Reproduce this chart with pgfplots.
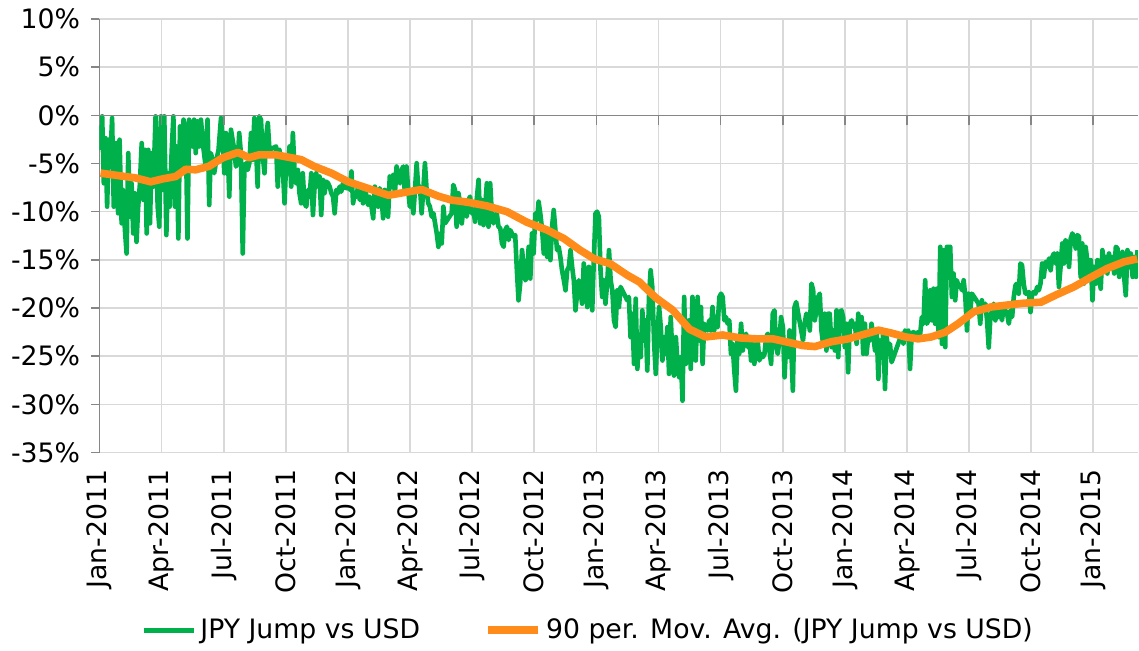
\documentclass[border=0pt]{standalone}
\usepackage{fontspec}
\setmainfont{DejaVu Sans}
\usepackage{pgfplots}
\pgfplotsset{compat=1.18}
\definecolor{jpygreen}{HTML}{00B04A}
\definecolor{mavgorange}{HTML}{FF8C1A}
\definecolor{gridgray}{HTML}{D9D9D9}
\definecolor{axisgray}{HTML}{868686}

\begin{document}
\fontsize{13.3}{16}\selectfont
\begin{tikzpicture}
\begin{axis}[
  scale only axis, width=517.5pt, height=216pt,
  xmin=0, xmax=50.17, ymin=-35, ymax=10,
  axis y line=left, axis x line=bottom,
  axis line style={-},
  x axis line style={draw=none},
  y axis line style={draw=axisgray, line width=0.8pt},
  xtick={0,3,...,48},
  xticklabels={Jan-2011,Apr-2011,Jul-2011,Oct-2011,Jan-2012,Apr-2012,Jul-2012,Oct-2012,Jan-2013,Apr-2013,Jul-2013,Oct-2013,Jan-2014,Apr-2014,Jul-2014,Oct-2014,Jan-2015},
  xticklabel style={rotate=90, anchor=east},
  xtick style={draw=none},
  ytick={-35,-30,...,10},
  yticklabels={-35\%,-30\%,-25\%,-20\%,-15\%,-10\%,-5\%,0\%,5\%,10\%},
  yticklabel style={inner xsep=5.5pt},
  ytick style={draw=axisgray, line width=0.8pt},
  tick align=outside, major tick length=4pt,
  grid=major, grid style={draw=gridgray, line width=0.8pt},
  legend style={at={(0.4715,-0.41)}, anchor=center, draw=none, fill=none,
    legend columns=2, /tikz/every even column/.append style={column sep=30pt}},
  legend cell align=left,
  legend image code/.code={\draw[#1] (0pt,0pt) -- (25pt,0pt);},
]
\addplot[jpygreen, line width=2.3pt, line join=round] coordinates {
(0.05,-3.58)(0.13,-0.10)(0.21,-7.05)(0.29,-2.36)(0.37,-9.48)(0.45,-2.53)(0.53,-4.27)(0.61,-0.28)
(0.69,-9.48)(0.81,-2.88)(0.90,-10.17)(0.97,-2.53)(1.07,-11.21)(1.13,-7.74)(1.23,-11.91)(1.31,-14.34)
(1.39,-3.92)(1.47,-10.52)(1.55,-7.05)(1.63,-12.26)(1.71,-8.09)(1.79,-13.13)(1.87,-9.48)(1.95,-7.22)
(2.04,-2.88)(2.12,-8.78)(2.20,-3.58)(2.28,-12.26)(2.36,-3.58)(2.44,-11.21)(2.52,-3.92)(2.60,-7.40)
(2.71,-0.10)(2.81,-9.48)(2.89,-11.56)(2.97,-0.10)(3.05,-7.74)(3.13,-0.10)(3.23,-12.43)(3.31,-6.01)
(3.39,-9.48)(3.49,-3.58)(3.57,-0.10)(3.65,-9.48)(3.73,-3.23)(3.81,-12.78)(3.89,-1.15)(3.97,-6.01)
(4.06,-0.45)(4.17,-1.49)(4.25,-12.78)(4.33,-0.45)(4.49,-3.23)(4.57,-0.45)(4.65,-3.92)(4.73,-0.63)
(4.82,-3.23)(4.90,-0.45)(5.01,-3.23)(5.11,-4.97)(5.22,-0.45)(5.30,-9.31)(5.38,-3.92)(5.46,-4.62)
(5.54,-6.01)(5.62,-4.97)(5.75,-3.58)(5.87,-0.28)(5.95,-2.53)(6.03,-6.01)(6.11,-1.84)(6.19,-3.58)
(6.27,-8.44)(6.35,-1.49)(6.43,-2.53)(6.51,-3.58)(6.59,-5.31)(6.67,-4.97)(6.75,-1.84)(6.83,-3.92)
(6.92,-14.34)(7.00,-5.31)(7.08,-4.97)(7.16,-5.66)(7.24,-4.97)(7.32,-1.84)(7.40,-4.62)(7.48,-0.28)
(7.56,-3.23)(7.64,-7.40)(7.72,-0.10)(7.80,-0.45)(7.89,-4.27)(7.97,-6.01)(8.05,-2.19)(8.13,-0.80)
(8.21,-3.58)
(8.53,-3.23)(8.61,-7.40)(8.69,-3.58)(8.77,-4.62)(8.85,-5.31)(8.94,-9.13)(9.02,-4.62)(9.10,-6.01)
(9.18,-3.23)(9.26,-7.40)(9.34,-1.84)(9.42,-5.66)(9.50,-7.05)(9.58,-5.66)(9.66,-8.09)(9.74,-9.13)
(9.82,-6.01)(9.90,-9.13)(9.99,-9.48)(10.07,-7.74)(10.15,-8.44)(10.23,-6.01)(10.31,-10.35)(10.39,-7.40)
(10.47,-6.01)(10.55,-7.40)(10.63,-6.35)(10.71,-10.35)(10.79,-6.70)(10.87,-8.09)(10.95,-6.87)(11.04,-7.05)
(11.12,-7.40)(11.20,-8.09)(11.28,-8.44)(11.36,-10.17)(11.44,-7.74)(11.52,-8.09)(11.60,-7.40)(11.68,-7.92)
(11.76,-7.05)(11.84,-7.40)(11.92,-7.57)(12.00,-7.05)(12.09,-7.74)(12.17,-5.83)(12.25,-9.13)(12.33,-8.09)
(12.41,-8.44)(12.49,-7.40)(12.57,-8.78)(12.65,-7.92)(12.73,-9.13)(12.81,-7.74)(12.89,-8.26)(12.97,-9.31)
(13.06,-8.44)(13.14,-9.48)(13.22,-10.69)(13.30,-7.40)(13.38,-8.26)(13.46,-9.48)(13.54,-7.57)(13.62,-8.44)
(13.70,-10.69)(13.78,-7.74)(13.86,-8.78)(13.94,-10.52)(14.02,-6.35)(14.11,-7.40)(14.19,-6.18)(14.27,-8.09)
(14.35,-5.31)(14.43,-6.70)(14.51,-7.05)(14.59,-5.66)(14.67,-5.31)(14.75,-8.09)(14.83,-5.31)(14.91,-7.74)
(14.99,-9.48)(15.08,-8.44)(15.16,-10.17)(15.24,-7.74)(15.32,-4.97)(15.40,-7.74)(15.48,-7.40)(15.56,-10.17)
(15.64,-7.74)(15.72,-4.97)(15.80,-7.74)(15.88,-9.13)(15.96,-9.48)(16.045,-10.52)(16.13,-10.17)(16.21,-11.21)
(16.29,-12.26)(16.37,-13.65)(16.45,-12.26)(16.53,-13.30)(16.61,-9.48)(16.69,-11.21)
(17.01,-10.17)(17.09,-7.22)(17.17,-7.74)(17.25,-11.56)(17.34,-8.09)(17.42,-9.13)(17.50,-11.22)(17.58,-9.48)
(17.66,-9.83)(17.74,-10.52)(17.82,-8.78)(17.90,-8.44)(17.98,-10.17)(18.06,-9.83)(18.14,-11.04)(18.22,-8.78)
(18.31,-6.70)(18.39,-11.22)(18.47,-8.78)(18.55,-11.39)(18.63,-9.48)(18.71,-7.05)(18.79,-11.56)(18.87,-7.05)
(18.95,-10.17)(19.03,-11.22)(19.11,-10.52)(19.19,-10.17)(19.27,-11.56)(19.36,-11.74)(19.44,-13.30)(19.52,-13.65)
(19.60,-11.91)(19.68,-11.56)(19.76,-12.95)(19.84,-11.91)(19.92,-12.26)(20.00,-12.60)(20.08,-12.43)(20.16,-16.08)
(20.24,-19.20)(20.32,-17.46)(20.41,-13.99)(20.49,-15.73)(20.57,-17.12)(20.65,-16.77)(20.73,-13.65)(20.81,-16.94)
(20.89,-12.26)(20.97,-14.34)(21.05,-10.17)(21.13,-10.87)(21.21,-8.96)(21.29,-10.17)(21.38,-11.91)(21.46,-14.34)
(21.54,-12.26)(21.62,-14.69)(21.70,-12.60)(21.78,-15.03)(21.86,-11.56)(21.94,-9.83)(22.02,-11.91)(22.10,-13.99)
(22.18,-13.65)(22.26,-14.69)(22.34,-16.08)(22.43,-17.12)(22.51,-18.16)(22.59,-16.08)(22.67,-15.73)(22.75,-13.99)
(22.83,-15.73)(22.91,-17.12)(22.99,-20.24)(23.07,-18.51)(23.15,-17.12)(23.23,-18.16)(23.31,-19.55)(23.39,-15.38)
(23.48,-17.12)(23.56,-19.90)(23.64,-15.73)(23.72,-17.46)(23.80,-20.24)(23.88,-14.69)(23.96,-10.17)(24.04,-10.00)
(24.12,-10.52)(24.20,-16.08)(24.28,-18.85)(24.36,-17.12)(24.44,-19.55)(24.53,-17.12)(24.61,-13.99)(24.69,-17.12)
(24.77,-18.16)(24.85,-21.28)(24.93,-21.98)(25.01,-18.16)(25.09,-19.90)(25.17,-17.81)
(25.49,-19.20)(25.57,-18.85)(25.65,-23.02)(25.73,-20.59)(25.82,-25.80)(25.90,-19.03)(25.98,-26.32)(26.06,-23.02)
(26.14,-25.10)(26.22,-20.24)(26.30,-23.37)(26.38,-21.28)(26.46,-26.49)(26.54,-18.85)(26.62,-16.08)(26.70,-17.81)
(26.79,-23.72)(26.87,-26.84)(26.95,-22.67)(27.03,-19.90)(27.11,-21.98)(27.19,-25.45)(27.27,-23.02)(27.35,-24.76)
(27.43,-21.98)(27.51,-26.84)(27.59,-20.94)(27.67,-24.76)(27.75,-27.01)(27.84,-23.02)(27.92,-25.80)(28.00,-27.19)
(28.08,-25.10)(28.16,-29.62)(28.24,-18.85)(28.32,-25.80)(28.40,-22.67)(28.48,-21.28)(28.56,-26.32)(28.64,-18.85)
(28.72,-22.33)(28.80,-25.45)(28.89,-18.85)(28.97,-23.37)(29.05,-19.90)(29.13,-25.80)(29.21,-21.63)(29.29,-21.98)
(29.37,-22.33)(29.45,-21.28)(29.53,-22.33)(29.61,-19.90)(29.69,-22.33)(29.77,-20.94)(29.85,-21.98)(29.94,-18.85)
(30.02,-18.51)(30.10,-18.85)(30.18,-21.28)(30.26,-20.94)(30.34,-21.63)(30.42,-21.28)(30.50,-24.76)(30.58,-23.72)
(30.66,-26.49)(30.74,-28.58)(30.82,-23.37)(30.90,-24.76)(30.99,-21.63)(31.07,-24.41)(31.15,-23.02)(31.23,-22.67)
(31.31,-24.06)(31.39,-23.02)(31.47,-25.45)(31.55,-23.72)(31.63,-25.80)(31.71,-24.06)(31.79,-23.37)(31.87,-25.45)
(31.96,-24.76)(32.04,-25.10)(32.12,-24.76)(32.20,-23.02)(32.28,-22.67)(32.36,-24.41)(32.44,-25.80)(32.52,-20.59)
(32.60,-20.24)(32.68,-24.06)(32.76,-24.76)(32.84,-23.37)(32.92,-20.94)(33.01,-21.98)(33.09,-27.19)(33.17,-23.37)
(33.25,-25.10)(33.33,-22.33)(33.41,-24.06)(33.49,-28.58)(33.57,-19.90)(33.65,-19.38)
(33.98,-23.37)(34.06,-21.63)(34.14,-20.59)(34.22,-20.94)(34.31,-22.33)(34.39,-17.47)(34.47,-18.16)(34.55,-21.28)
(34.63,-20.24)(34.71,-18.85)(34.79,-18.51)(34.87,-22.33)(34.95,-23.72)(35.03,-20.59)(35.11,-24.41)(35.19,-20.59)
(35.27,-20.59)(35.36,-24.06)(35.44,-22.33)(35.52,-24.41)(35.60,-20.24)(35.68,-25.10)(35.76,-20.42)(35.84,-20.24)
(35.92,-20.94)(36.00,-24.06)(36.08,-21.63)(36.16,-26.67)(36.24,-21.63)(36.33,-21.28)(36.41,-21.98)(36.49,-21.63)
(36.57,-23.72)(36.65,-20.59)(36.73,-21.98)(36.81,-20.94)(36.89,-24.76)(36.97,-21.63)(37.05,-24.76)(37.13,-23.02)
(37.21,-23.37)(37.29,-21.63)(37.38,-23.02)(37.46,-24.41)(37.54,-22.33)(37.62,-27.36)(37.70,-23.37)(37.78,-25.10)
(37.86,-22.33)(37.94,-28.40)(38.02,-23.02)(38.10,-24.41)(38.18,-23.72)(38.26,-25.62)(38.75,-22.67)(38.83,-23.72)
(38.91,-22.33)(38.99,-22.50)(39.07,-22.33)(39.15,-26.32)(39.23,-22.67)(39.31,-22.50)(39.39,-22.67)(39.56,-22.50)
(39.64,-22.67)(39.72,-20.94)(39.80,-21.63)(39.88,-17.12)(39.96,-21.63)(40.04,-21.28)(40.12,-18.16)(40.20,-21.28)
(40.28,-17.99)(40.36,-21.63)(40.45,-17.99)(40.53,-23.02)(40.61,-13.65)(40.69,-23.72)(40.77,-13.99)(40.85,-24.06)
(40.93,-13.65)(41.01,-13.65)(41.09,-13.65)(41.17,-18.85)(41.25,-16.42)(41.33,-19.20)(41.41,-17.12)(41.50,-17.81)
(41.58,-17.64)(41.66,-18.16)(41.74,-17.12)(41.82,-18.85)(41.90,-22.33)(41.98,-18.51)(42.06,-20.24)(42.14,-18.51)
(42.46,-19.55)(42.54,-21.63)(42.62,-19.20)(42.70,-20.24)(42.79,-19.55)(42.87,-21.28)(42.95,-24.10)(43.03,-20.94)
(43.11,-20.24)(43.19,-19.55)(43.27,-21.28)(43.35,-19.90)(43.43,-20.94)(43.51,-20.24)(43.59,-21.28)(43.67,-19.90)
(43.75,-20.24)(43.84,-20.59)(43.92,-21.63)(44.00,-20.24)(44.08,-20.94)(44.16,-18.85)(44.24,-17.64)(44.32,-17.47)
(44.40,-18.51)(44.48,-15.38)(44.56,-15.56)(44.64,-17.47)(44.72,-18.51)(44.81,-18.51)(44.89,-18.33)(44.97,-20.42)
(45.05,-18.51)(45.13,-18.33)(45.21,-18.51)(45.29,-17.81)(45.37,-18.16)(45.45,-17.47)(45.53,-15.38)(45.61,-16.77)
(45.69,-15.21)(45.77,-15.73)(45.86,-14.86)(45.94,-16.08)(46.02,-14.69)(46.10,-14.34)(46.18,-15.38)(46.26,-14.34)
(46.34,-17.81)(46.42,-15.73)(46.50,-13.30)(46.58,-15.38)(46.66,-12.95)(46.74,-13.30)(46.83,-15.73)(46.91,-12.78)
(46.99,-12.26)(47.07,-12.60)(47.15,-13.82)(47.23,-12.43)(47.31,-12.60)(47.39,-16.77)(47.47,-13.30)(47.55,-17.47)
(47.63,-13.65)(47.71,-15.03)(47.79,-16.77)(47.88,-15.03)(47.96,-19.20)(48.04,-15.73)(48.12,-17.47)(48.20,-15.03)
(48.28,-16.77)(48.36,-17.99)(48.44,-13.99)(48.52,-15.73)(48.60,-14.69)(48.68,-16.42)(48.76,-14.34)(48.84,-15.38)
(48.93,-14.69)(49.01,-16.42)(49.09,-13.65)(49.17,-13.82)(49.25,-16.77)(49.33,-15.03)(49.41,-14.17)(49.49,-16.77)
(49.57,-18.68)(49.65,-13.99)(49.73,-15.73)(49.81,-14.34)(49.90,-16.77)(49.98,-14.69)(50.06,-16.77)(50.14,-13.99)
};
\addlegendentry{JPY Jump vs USD}
\addplot[mavgorange, line width=3.8pt, line join=round] coordinates {
(0.05,-6.0)(1.75,-6.5)(2.47,-6.9)(3.05,-6.6)(3.68,-6.35)(4.17,-5.6)(4.65,-5.65)(5.28,-5.3)
(5.96,-4.4)(6.69,-3.85)(7.22,-4.4)(7.71,-4.1)(8.53,-4.1)(9.26,-4.4)(9.74,-4.6)(10.37,-5.3)
(11.20,-6.0)(12.02,-6.9)(12.99,-7.6)(13.96,-8.3)(14.74,-8.0)(15.56,-7.7)(16.38,-8.4)(17.01,-8.8)
(17.74,-9.0)(18.71,-9.4)(19.68,-10.0)(20.65,-11.1)(21.62,-11.9)(22.44,-12.8)(23.22,-14.0)(23.90,-14.9)
(24.67,-15.4)(25.50,-16.6)(26.08,-17.3)(26.85,-18.9)(27.68,-20.2)(28.50,-22.2)(29.28,-23.0)(30.10,-22.8)
(30.93,-23.1)(31.70,-23.2)(32.53,-23.2)(33.35,-23.6)(33.98,-23.9)(34.56,-24.0)(35.34,-23.5)(36.16,-23.2)
(36.98,-22.7)(37.62,-22.3)(38.25,-22.6)(38.92,-23.0)(39.55,-23.2)(40.18,-23.0)(40.86,-22.5)(41.49,-21.6)
(42.22,-20.4)(43.04,-19.9)(43.82,-19.7)(44.64,-19.5)(45.47,-19.4)(46.24,-18.6)(47.07,-17.8)(47.89,-16.8)
(48.67,-15.9)(49.49,-15.2)(50.12,-14.9)
};
\addlegendentry{90 per. Mov. Avg. (JPY Jump vs USD)}
\end{axis}
\begin{axis}[
  scale only axis, width=517.5pt, height=216pt,
  xmin=0, xmax=50.17, ymin=-35, ymax=10,
  axis x line=middle, axis y line=none,
  x axis line style={-, draw=axisgray, line width=0.8pt},
  xtick={0,3,...,48}, xticklabels={},
  xtick style={draw=axisgray, line width=0.8pt},
  ytick=\empty,
  tick align=outside, major tick length=5pt,
]
\end{axis}
\end{tikzpicture}
\end{document}
